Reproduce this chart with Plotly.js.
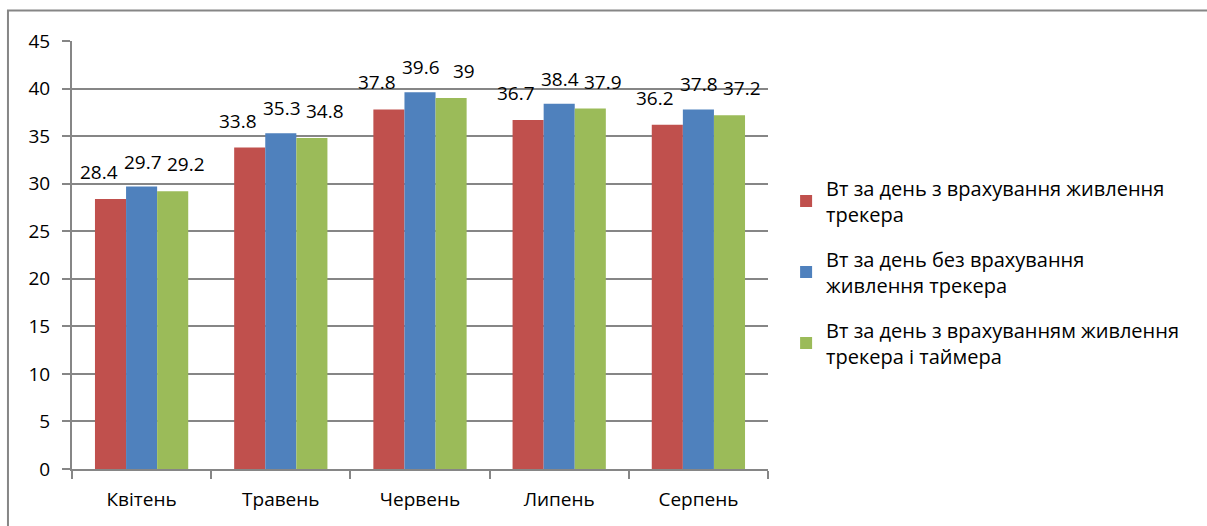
<!DOCTYPE html>
<html>
<head>
<meta charset="utf-8">
<script src="https://cdn.plot.ly/plotly-3.0.1.min.js"></script>
<style>html,body{margin:0;padding:0;background:#fff;}#chart{width:1207px;height:526px;}</style>
</head>
<body>
<div id="chart"></div>
<script>
const months = ["Квітень", "Травень", "Червень", "Липень", "Серпень"];
const seriesNames = [
  "Вт за день з врахування живлення<br>трекера",
  "Вт за день без врахування<br>живлення трекера",
  "Вт за день з врахуванням живлення<br>трекера і таймера"
];
const withTracker = [28.4, 33.8, 37.8, 36.7, 36.2];
const withoutTracker = [29.7, 35.3, 39.6, 38.4, 37.8];
const withTrackerTimer = [29.2, 34.8, 39, 37.9, 37.2];
const colors = ["#c0504d", "#4f81bd", "#9bbb59"];
const yTicks = [0, 5, 10, 15, 20, 25, 30, 35, 40, 45];

const seriesValues = [withTracker, withoutTracker, withTrackerTimer];
const fam = "Open Sans, Noto Sans, sans-serif";
const font = {family: fam, size: 19, color: "#000"};
// label placement style (Excel-like staggered data labels)
const labelXShift = [-43, 1, 44];
const labelYShift = [12, 10, 12];

const traces = seriesValues.map((vals, i) => ({
  type: "bar",
  name: seriesNames[i],
  legendgroup: "g" + i,
  x: months,
  y: vals,
  marker: {color: colors[i]}
}));

const annotations = [];
seriesValues.forEach((vals, i) => {
  vals.forEach((v, j) => {
    annotations.push({
      xref: "x", yref: "y",
      x: months[j], y: v,
      text: String(v),
      showarrow: false,
      xanchor: "center", yanchor: "bottom",
      xshift: labelXShift[i], yshift: labelYShift[i],
      font: {family: fam, size: 19, color: "#000"}
    });
  });
});

const layout = {
  width: 1207,
  height: 526,
  margin: {l: 72, r: 439, t: 41, b: 57},
  paper_bgcolor: "#fff",
  plot_bgcolor: "#fff",
  font: font,
  barmode: "group",
  bargap: 0.33,
  bargroupgap: 0,
  showlegend: true,
  legend: {
    x: 1.026, xanchor: "left",
    y: 0.46, yanchor: "middle",
    font: {family: fam, size: 20, color: "#000"},
    tracegroupgap: 16,
    itemwidth: 30,
    traceorder: "grouped"
  },
  annotations: annotations,
  xaxis: {
    type: "category",
    showline: true, linecolor: "#868686", linewidth: 2,
    ticks: "outside", tickcolor: "#868686", ticklen: 8, tickwidth: 2,
    tickson: "boundaries",
    ticklabelstandoff: 12,
    showgrid: false,
    tickfont: {family: fam, size: 19, color: "#000"}
  },
  yaxis: {
    range: [0, 45],
    tickvals: yTicks,
    ticktext: yTicks.map(String),
    showline: true, linecolor: "#868686", linewidth: 2,
    ticks: "outside", tickcolor: "#868686", ticklen: 8, tickwidth: 2,
    ticklabelstandoff: 8,
    showgrid: true, gridcolor: "#868686", gridwidth: 2,
    zeroline: false,
    tickfont: {family: fam, size: 19, color: "#000"}
  },
  shapes: [{
    type: "rect", xref: "paper", yref: "paper",
    x0: -0.092, x1: 1.9, y0: -0.3, y1: 1.071,
    line: {color: "#868686", width: 2},
    fillcolor: "rgba(0,0,0,0)",
    layer: "below"
  }]
};

Plotly.newPlot("chart", traces, layout, {displayModeBar: false, staticPlot: true});
</script>
</body>
</html>
